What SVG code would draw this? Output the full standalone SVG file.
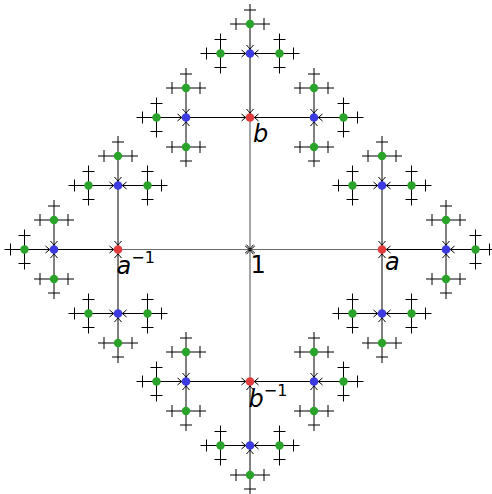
<svg xmlns="http://www.w3.org/2000/svg" xmlns:xlink="http://www.w3.org/1999/xlink" width="492" height="494" viewBox="0 0 492 494">
<style>
.e1{fill:none;stroke:#6a6a6a;stroke-width:1.2;marker-start:url(#t0)}
.e2{fill:none;stroke:#000;stroke-width:1;marker-start:url(#t4)}
.x{fill:none;stroke:#000;stroke-width:1}
.r{fill:#e23b3b}
.bl{fill:#3b3be0}
.g{fill:#29a329}
text{font-family:"DejaVu Sans","Liberation Sans",sans-serif;font-size:24px;fill:#000}
.it{font-style:italic}
.sup{font-style:normal;font-size:16px}
</style>
<defs>
<marker id="t0" markerUnits="userSpaceOnUse" markerWidth="20" markerHeight="20" refX="0" refY="0" orient="auto" overflow="visible"><path d="M4.8,-3.5Q1.8,-0.8 0.4,0Q1.8,0.8 4.8,3.5" fill="none" stroke="#000" stroke-width="1"/></marker>
<marker id="t4" markerUnits="userSpaceOnUse" markerWidth="20" markerHeight="20" refX="0" refY="0" orient="auto" overflow="visible"><path d="M8.5,-3.5Q5.5,-0.8 4.2,0Q5.5,0.8 8.5,3.5" fill="none" stroke="#000" stroke-width="1"/></marker>
<path id="cR" class="x" d="M0,0h20m-6,-6v12M0,0v-20m-6,6h12M0,0v20m-6,-6h12"/>
<path id="cL" class="x" d="M0,0h-20m6,-6v12M0,0v-20m-6,6h12M0,0v20m-6,-6h12"/>
<path id="cU" class="x" d="M0,0v-20m-6,6h12M0,0h-20m6,-6v12M0,0h20m-6,-6v12"/>
<path id="cD" class="x" d="M0,0v20m-6,-6h12M0,0h-20m6,-6v12M0,0h20m-6,-6v12"/>
</defs>

<g id="connectors">
<path class="e1" d="M250,249.5H382"/>
<path class="e1" d="M250,249.5H118"/>
<path class="e1" d="M250,249.5V117.5"/>
<path class="e1" d="M250,249.5V381.5"/>

<path class="e2" d="M382,249.5H446"/>
<path class="e2" d="M382,249.5V185.5"/>
<path class="e2" d="M382,249.5V313.5"/>
<path class="e2" d="M118,249.5H54"/>
<path class="e2" d="M118,249.5V185.5"/>
<path class="e2" d="M118,249.5V313.5"/>
<path class="e2" d="M250,117.5V53.5"/>
<path class="e2" d="M250,117.5H186"/>
<path class="e2" d="M250,117.5H314"/>
<path class="e2" d="M250,381.5V445.5"/>
<path class="e2" d="M250,381.5H186"/>
<path class="e2" d="M250,381.5H314"/>

<path class="e2" d="M446,249.5H475.5"/>
<path class="e2" d="M446,249.5V220"/>
<path class="e2" d="M446,249.5V279"/>
<path class="e2" d="M382,185.5V156"/>
<path class="e2" d="M382,185.5H352.5"/>
<path class="e2" d="M382,185.5H411.5"/>
<path class="e2" d="M382,313.5V343"/>
<path class="e2" d="M382,313.5H352.5"/>
<path class="e2" d="M382,313.5H411.5"/>
<path class="e2" d="M54,249.5H24.5"/>
<path class="e2" d="M54,249.5V220"/>
<path class="e2" d="M54,249.5V279"/>
<path class="e2" d="M118,185.5V156"/>
<path class="e2" d="M118,185.5H88.5"/>
<path class="e2" d="M118,185.5H147.5"/>
<path class="e2" d="M118,313.5V343"/>
<path class="e2" d="M118,313.5H88.5"/>
<path class="e2" d="M118,313.5H147.5"/>
<path class="e2" d="M250,53.5V24"/>
<path class="e2" d="M250,53.5H220.5"/>
<path class="e2" d="M250,53.5H279.5"/>
<path class="e2" d="M186,117.5H156.5"/>
<path class="e2" d="M186,117.5V88"/>
<path class="e2" d="M186,117.5V147"/>
<path class="e2" d="M314,117.5H343.5"/>
<path class="e2" d="M314,117.5V88"/>
<path class="e2" d="M314,117.5V147"/>
<path class="e2" d="M250,445.5V475"/>
<path class="e2" d="M250,445.5H220.5"/>
<path class="e2" d="M250,445.5H279.5"/>
<path class="e2" d="M186,381.5H156.5"/>
<path class="e2" d="M186,381.5V352"/>
<path class="e2" d="M186,381.5V411"/>
<path class="e2" d="M314,381.5H343.5"/>
<path class="e2" d="M314,381.5V352"/>
<path class="e2" d="M314,381.5V411"/>

<use href="#cR" x="475.5" y="249.5"/>
<use href="#cU" x="446" y="220"/>
<use href="#cD" x="446" y="279"/>
<use href="#cU" x="382" y="156"/>
<use href="#cL" x="352.5" y="185.5"/>
<use href="#cR" x="411.5" y="185.5"/>
<use href="#cD" x="382" y="343"/>
<use href="#cL" x="352.5" y="313.5"/>
<use href="#cR" x="411.5" y="313.5"/>
<use href="#cL" x="24.5" y="249.5"/>
<use href="#cU" x="54" y="220"/>
<use href="#cD" x="54" y="279"/>
<use href="#cU" x="118" y="156"/>
<use href="#cL" x="88.5" y="185.5"/>
<use href="#cR" x="147.5" y="185.5"/>
<use href="#cD" x="118" y="343"/>
<use href="#cL" x="88.5" y="313.5"/>
<use href="#cR" x="147.5" y="313.5"/>
<use href="#cU" x="250" y="24"/>
<use href="#cL" x="220.5" y="53.5"/>
<use href="#cR" x="279.5" y="53.5"/>
<use href="#cL" x="156.5" y="117.5"/>
<use href="#cU" x="186" y="88"/>
<use href="#cD" x="186" y="147"/>
<use href="#cR" x="343.5" y="117.5"/>
<use href="#cU" x="314" y="88"/>
<use href="#cD" x="314" y="147"/>
<use href="#cD" x="250" y="475"/>
<use href="#cL" x="220.5" y="445.5"/>
<use href="#cR" x="279.5" y="445.5"/>
<use href="#cL" x="156.5" y="381.5"/>
<use href="#cU" x="186" y="352"/>
<use href="#cD" x="186" y="411"/>
<use href="#cR" x="343.5" y="381.5"/>
<use href="#cU" x="314" y="352"/>
<use href="#cD" x="314" y="411"/>
</g>

<g id="n-1"><text x="250.5" y="273">1</text></g>
<g id="n-a"><circle class="r" cx="382" cy="249.5" r="4.3"/><text class="it" x="385" y="270">a</text></g>
<g id="n-A"><circle class="r" cx="118" cy="249.5" r="4.3"/><text class="it" x="116.5" y="274">a<tspan class="sup" dy="-11">−1</tspan></text></g>
<g id="n-b"><circle class="r" cx="250" cy="117.5" r="4.3"/><text class="it" x="253" y="142">b</text></g>
<g id="n-B"><circle class="r" cx="250" cy="381.5" r="4.3"/><text class="it" x="248.5" y="406.5">b<tspan class="sup" dy="-11">−1</tspan></text></g>

<g id="n-aa"><circle class="bl" cx="446" cy="249.5" r="4.3"/></g>
<g id="n-ab"><circle class="bl" cx="382" cy="185.5" r="4.3"/></g>
<g id="n-aB"><circle class="bl" cx="382" cy="313.5" r="4.3"/></g>
<g id="n-AA"><circle class="bl" cx="54" cy="249.5" r="4.3"/></g>
<g id="n-Ab"><circle class="bl" cx="118" cy="185.5" r="4.3"/></g>
<g id="n-AB"><circle class="bl" cx="118" cy="313.5" r="4.3"/></g>
<g id="n-bb"><circle class="bl" cx="250" cy="53.5" r="4.3"/></g>
<g id="n-bA"><circle class="bl" cx="186" cy="117.5" r="4.3"/></g>
<g id="n-ba"><circle class="bl" cx="314" cy="117.5" r="4.3"/></g>
<g id="n-BB"><circle class="bl" cx="250" cy="445.5" r="4.3"/></g>
<g id="n-BA"><circle class="bl" cx="186" cy="381.5" r="4.3"/></g>
<g id="n-Ba"><circle class="bl" cx="314" cy="381.5" r="4.3"/></g>

<g id="n-aaa"><circle class="g" cx="475.5" cy="249.5" r="4.2"/></g>
<g id="n-aab"><circle class="g" cx="446" cy="220" r="4.2"/></g>
<g id="n-aaB"><circle class="g" cx="446" cy="279" r="4.2"/></g>
<g id="n-abb"><circle class="g" cx="382" cy="156" r="4.2"/></g>
<g id="n-abA"><circle class="g" cx="352.5" cy="185.5" r="4.2"/></g>
<g id="n-aba"><circle class="g" cx="411.5" cy="185.5" r="4.2"/></g>
<g id="n-aBB"><circle class="g" cx="382" cy="343" r="4.2"/></g>
<g id="n-aBA"><circle class="g" cx="352.5" cy="313.5" r="4.2"/></g>
<g id="n-aBa"><circle class="g" cx="411.5" cy="313.5" r="4.2"/></g>
<g id="n-AAA"><circle class="g" cx="24.5" cy="249.5" r="4.2"/></g>
<g id="n-AAb"><circle class="g" cx="54" cy="220" r="4.2"/></g>
<g id="n-AAB"><circle class="g" cx="54" cy="279" r="4.2"/></g>
<g id="n-Abb"><circle class="g" cx="118" cy="156" r="4.2"/></g>
<g id="n-AbA"><circle class="g" cx="88.5" cy="185.5" r="4.2"/></g>
<g id="n-Aba"><circle class="g" cx="147.5" cy="185.5" r="4.2"/></g>
<g id="n-ABB"><circle class="g" cx="118" cy="343" r="4.2"/></g>
<g id="n-ABA"><circle class="g" cx="88.5" cy="313.5" r="4.2"/></g>
<g id="n-ABa"><circle class="g" cx="147.5" cy="313.5" r="4.2"/></g>
<g id="n-bbb"><circle class="g" cx="250" cy="24" r="4.2"/></g>
<g id="n-bbA"><circle class="g" cx="220.5" cy="53.5" r="4.2"/></g>
<g id="n-bba"><circle class="g" cx="279.5" cy="53.5" r="4.2"/></g>
<g id="n-bAA"><circle class="g" cx="156.5" cy="117.5" r="4.2"/></g>
<g id="n-bAb"><circle class="g" cx="186" cy="88" r="4.2"/></g>
<g id="n-bAB"><circle class="g" cx="186" cy="147" r="4.2"/></g>
<g id="n-baa"><circle class="g" cx="343.5" cy="117.5" r="4.2"/></g>
<g id="n-bab"><circle class="g" cx="314" cy="88" r="4.2"/></g>
<g id="n-baB"><circle class="g" cx="314" cy="147" r="4.2"/></g>
<g id="n-BBB"><circle class="g" cx="250" cy="475" r="4.2"/></g>
<g id="n-BBA"><circle class="g" cx="220.5" cy="445.5" r="4.2"/></g>
<g id="n-BBa"><circle class="g" cx="279.5" cy="445.5" r="4.2"/></g>
<g id="n-BAA"><circle class="g" cx="156.5" cy="381.5" r="4.2"/></g>
<g id="n-BAb"><circle class="g" cx="186" cy="352" r="4.2"/></g>
<g id="n-BAB"><circle class="g" cx="186" cy="411" r="4.2"/></g>
<g id="n-Baa"><circle class="g" cx="343.5" cy="381.5" r="4.2"/></g>
<g id="n-Bab"><circle class="g" cx="314" cy="352" r="4.2"/></g>
<g id="n-BaB"><circle class="g" cx="314" cy="411" r="4.2"/></g>
</svg>
